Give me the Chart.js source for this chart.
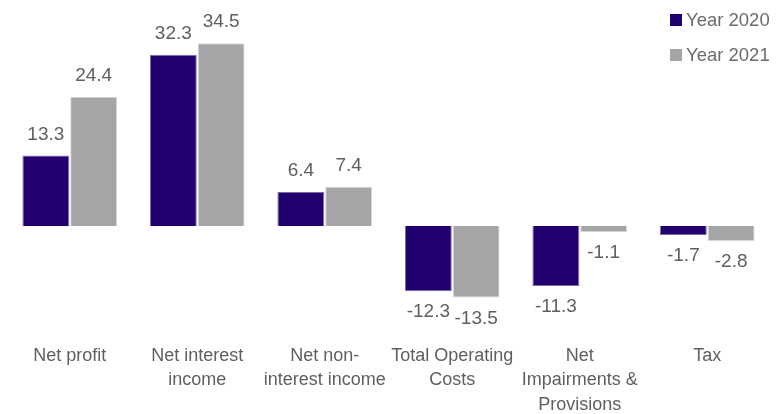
<!DOCTYPE html>
<html>
<head>
<meta charset="utf-8">
<script src="https://cdn.jsdelivr.net/npm/chart.js@4.4.1/dist/chart.umd.min.js"></script>
<style>
  body { margin: 0; background: #fff; }
  #wrap { position: relative; width: 783px; height: 414px; }
  #legend { position: absolute; top: 6px; left: 670px; font-family: "Liberation Sans", sans-serif; font-size: 18.5px; color: #6b6b6b; }
  #legend div { height: 35px; line-height: 28px; white-space: nowrap; }
  #legend span { display: inline-block; width: 12px; height: 12px; margin-right: 4px; vertical-align: 0px; }
</style>
</head>
<body>
<div id="wrap">
  <canvas id="results" width="783" height="414"></canvas>
  <div id="legend">
    <div><span style="background:#23006f"></span>Year 2020</div>
    <div><span style="background:#a5a5a8"></span>Year 2021</div>
  </div>
</div>
<script>
const categories = [
  'Net profit',
  ['Net interest', 'income'],
  ['Net non-', 'interest income'],
  ['Total Operating', 'Costs'],
  ['Net', 'Impairments &', 'Provisions'],
  'Tax'
];
const year2020 = [13.3, 32.3, 6.4, -12.3, -11.3, -1.7];
const year2021 = [24.4, 34.5, 7.4, -13.5, -1.1, -2.8];

// writes each bar's value just past its end
const valueLabels = {
  id: 'valueLabels',
  afterDatasetsDraw(chart) {
    const ctx = chart.ctx;
    ctx.save();
    ctx.font = '19px "Liberation Sans", sans-serif';
    ctx.fillStyle = '#5f5f5f';
    ctx.textAlign = 'center';
    ctx.textBaseline = 'middle';
    chart.data.datasets.forEach((ds, i) => {
      chart.getDatasetMeta(i).data.forEach((bar, j) => {
        const v = ds.data[j];
        const y = v >= 0 ? bar.y - 21 : bar.y + 21;
        ctx.fillText(v.toFixed(1), bar.x, y);
      });
    });
    ctx.restore();
  }
};

new Chart(document.getElementById('results'), {
  type: 'bar',
  data: {
    labels: categories,
    datasets: [
      { label: 'Year 2020', data: year2020, backgroundColor: '#23006f', borderColor: '#7d6aa8', borderWidth: 1 },
      { label: 'Year 2021', data: year2021, backgroundColor: '#a5a5a8', borderColor: '#d6d6d8', borderWidth: 1 }
    ]
  },
  options: {
    responsive: false,
    animation: false,
    layout: { padding: { top: 14, left: 6, right: 12, bottom: 2 } },
    datasets: { bar: { categoryPercentage: 0.75, barPercentage: 0.98 } },
    plugins: { legend: { display: false }, tooltip: { enabled: false } },
    scales: {
      x: {
        grid: { display: false },
        border: { display: false },
        afterFit(scale) { scale.height = 90; },
        ticks: {
          color: '#5f5f5f',
          padding: 14,
          maxRotation: 0,
          autoSkip: false,
          font: { family: '"Liberation Sans", sans-serif', size: 18, lineHeight: 1.35 }
        }
      },
      y: { display: false, min: -18.1, max: 40 }
    }
  },
  plugins: [valueLabels]
});
</script>
</body>
</html>
